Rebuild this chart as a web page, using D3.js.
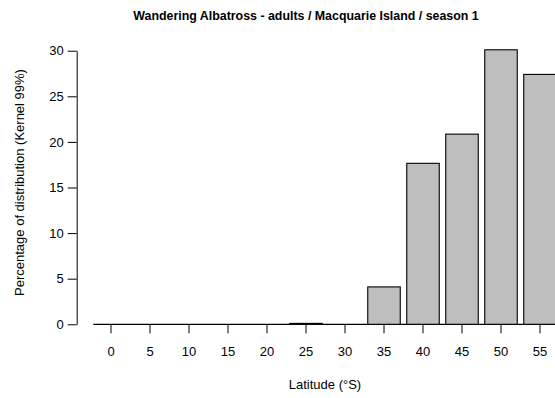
<!DOCTYPE html>
<html>
<head>
<meta charset="utf-8">
<script src="https://cdn.jsdelivr.net/npm/d3@7"></script>
<style>
  body { margin: 0; background: #fff; }
  svg { display: block; font-family: "Liberation Sans", Arial, sans-serif; }
</style>
</head>
<body>
<div id="chart"></div>
<script>
const latitudes = ["0", "5", "10", "15", "20", "25", "30", "35", "40", "45", "50", "55"];
const percentages = [0, 0, 0, 0, 0, 0.1, 0, 4.1, 17.65, 20.85, 30.1, 27.4];
const yTicks = [0, 5, 10, 15, 20, 25, 30];

const width = 555;
const height = 398;

const svg = d3.select("#chart").append("svg")
  .attr("width", width)
  .attr("height", height);

const x = d3.scaleBand()
  .domain(latitudes)
  .range([91.5, 91.5 + 39 * latitudes.length])
  .paddingInner(1 / 6)
  .paddingOuter(1 / 12);

const y = d3.scaleLinear().domain([0, 30]).range([324.3, 50.7]);

// baseline under the bars
svg.append("line")
  .attr("x1", x(latitudes[0]) - 1.5)
  .attr("x2", width + 10)
  .attr("y1", y(0))
  .attr("y2", y(0))
  .attr("stroke", "#000")
  .attr("stroke-width", 1.2);

svg.selectAll("rect.bar")
  .data(percentages)
  .enter()
  .append("rect")
  .attr("class", "bar")
  .attr("x", (d, i) => x(latitudes[i]))
  .attr("y", (d) => y(d))
  .attr("width", x.bandwidth())
  .attr("height", (d) => y(0) - y(d))
  .attr("fill", "#bebebe")
  .attr("stroke", "#000")
  .attr("stroke-width", 1.1);

const yAxis = d3.axisLeft(y).tickValues(yTicks).tickSize(9).tickSizeOuter(0).tickPadding(4);
const gy = svg.append("g")
  .attr("transform", "translate(76.7,0)")
  .call(yAxis);
gy.selectAll("text").style("font-size", "13px").attr("fill", "#000");
gy.selectAll("line, path").attr("stroke", "#000");

const xAxis = d3.axisBottom(x).tickSize(9).tickPadding(13);
const gx = svg.append("g")
  .attr("transform", `translate(0,${y(0)})`)
  .call(xAxis);
gx.select(".domain").remove();
gx.selectAll("text").style("font-size", "13px").attr("fill", "#000");
gx.selectAll("line").attr("stroke", "#000");

svg.append("text")
  .attr("x", 306)
  .attr("y", 20)
  .attr("text-anchor", "middle")
  .style("font-size", "12.4px")
  .style("font-weight", "bold")
  .text("Wandering Albatross - adults / Macquarie Island / season 1");

svg.append("text")
  .attr("x", 325)
  .attr("y", 389)
  .attr("text-anchor", "middle")
  .style("font-size", "13px")
  .text("Latitude (°S)");

svg.append("text")
  .attr("transform", "translate(23.5,182.5) rotate(-90)")
  .attr("text-anchor", "middle")
  .style("font-size", "13px")
  .text("Percentage of distribution (Kernel 99%)");
</script>
</body>
</html>
